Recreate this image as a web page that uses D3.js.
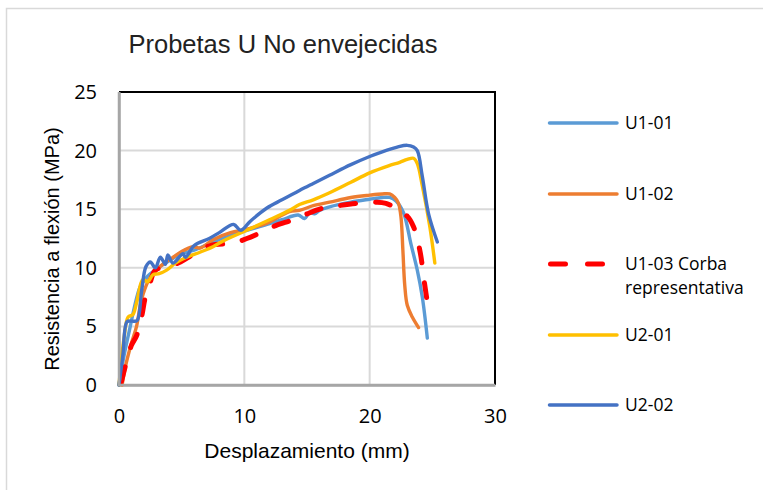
<!DOCTYPE html>
<html>
<head>
<meta charset="utf-8">
<script src="https://cdn.jsdelivr.net/npm/d3@7"></script>
<style>
  body { margin: 0; background: #fff; }
  svg { display: block; }
</style>
</head>
<body>
<svg id="chart" width="763" height="490"></svg>
<script>
// Probetas U No envejecidas -- flexion curves

var xTicks = [0, 10, 20, 30];
var yTicks = [0, 5, 10, 15, 20, 25];

// [desplazamiento mm, resistencia MPa]
var u1_01 = [[0,0],[0.4,2.5],[0.9,5.0],[1.2,6.5],[1.7,8.4],[2.3,9.3],[3.0,9.9],[4.0,10.6],
  [5.0,11.2],[6.0,11.5],[7.5,12.2],[9.0,12.8],[10.2,13.2],[11.5,13.6],[13.0,14.1],[14.3,14.5],
  [14.8,14.2],[15.2,14.7],[15.6,14.6],[16.0,14.9],[16.8,15.2],[18.5,15.6],[20.0,15.85],[21.0,16.0],
  [21.6,16.0],[22.1,15.7],[22.7,14.7],[23.3,12.0],[23.8,9.8],[24.2,7.5],[24.6,4.0]];

var u1_02 = [[0.25,0],[0.5,1.5],[1.0,3.6],[1.4,5.0],[1.8,7.3],[2.4,9.0],[3.0,9.8],[3.6,10.4],
  [4.2,10.8],[5.0,11.4],[5.9,11.8],[6.5,11.7],[7.5,12.4],[8.9,13.0],[10.2,13.3],[11.8,13.8],
  [13.6,14.8],[14.4,14.9],[15.5,15.3],[16.8,15.6],[18.5,16.0],[20.0,16.2],[21.0,16.3],[21.6,16.3],
  [22.0,16.0],[22.3,15.5],[22.5,14.3],[22.65,11.5],[22.8,8.5],[23.0,6.8],[23.4,5.8],[23.9,4.9]];

var u1_03 = [[0.2,0.3],[0.6,2.0],[1.0,3.4],[1.4,4.2],[1.8,5.8],[2.1,7.5],[2.5,8.8],[2.9,9.8],
  [4.0,10.1],[4.9,10.5],[6.0,11.2],[7.3,11.9],[9.1,12.1],[10.2,12.5],[11.4,13.05],[12.5,13.6],
  [13.9,14.1],[15.0,14.6],[16.3,15.1],[17.5,15.3],[19.0,15.5],[20.6,15.6],[21.3,15.5],[21.9,15.2],
  [22.5,14.7],[23.0,14.4],[23.5,13.5],[24.0,11.5],[24.4,8.5],[24.65,6.7]];

var u2_01 = [[0,0],[0.4,4.0],[0.73,5.8],[1.1,6.0],[1.4,7.0],[1.9,9.0],[2.3,8.8],[2.7,9.4],
  [3.2,9.5],[3.8,9.8],[4.5,10.4],[5.4,10.9],[6.5,11.35],[7.5,11.8],[8.5,12.4],[10.2,13.2],
  [12.0,14.1],[13.6,14.9],[14.4,15.4],[15.5,15.8],[16.8,16.4],[18.5,17.3],[20.0,18.1],[21.5,18.7],
  [22.4,19.0],[23.0,19.25],[23.5,19.35],[23.8,18.9],[24.2,17.0],[24.8,13.5],[25.2,10.4]];

var u2_02 = [[0,0],[0.3,2.5],[0.64,5.4],[1.0,5.45],[1.44,5.5],[1.8,8.0],[2.15,10.1],[2.5,10.5],
  [2.9,10.0],[3.3,10.9],[3.7,10.3],[3.9,11.1],[4.3,10.4],[5.1,11.2],[5.3,10.9],[6.0,11.9],
  [7.2,12.5],[8.0,13.0],[9.15,13.7],[9.7,13.2],[10.5,14.0],[11.8,15.1],[13.0,15.8],[14.4,16.6],
  [15.5,17.2],[16.8,17.9],[18.5,18.8],[20.0,19.5],[21.0,19.9],[22.2,20.3],[23.0,20.45],[23.5,20.3],
  [23.8,20.0],[24.2,17.8],[24.7,14.6],[25.4,12.2]];

var seriesNames = ["U1-01", "U1-02", "U1-03 Corba|representativa", "U2-01", "U2-02"];
var seriesData = [u1_01, u1_02, u1_03, u2_01, u2_02];
var seriesColors = ["#5B9BD5", "#ED7D31", "#FF0000", "#FFC000", "#4472C4"];

var svg = d3.select("#chart");

// outer chart frame
svg.append("rect")
  .attr("x", 6.5).attr("y", 8.5)
  .attr("width", 820).attr("height", 600)
  .attr("fill", "none").attr("stroke", "#d9d9d9").attr("stroke-width", 1.5);

var plot = { left: 119, right: 495, top: 92, bottom: 385 };

var x = d3.scaleLinear().domain([0, 30]).range([plot.left, plot.right]);
var y = d3.scaleLinear().domain([0, 25]).range([plot.bottom, plot.top]);

// gridlines
svg.append("g").selectAll("line")
  .data(yTicks.slice(1, -1))
  .enter().append("line")
  .attr("x1", plot.left).attr("x2", plot.right)
  .attr("y1", function (d) { return y(d); })
  .attr("y2", function (d) { return y(d); })
  .attr("stroke", "#d9d9d9").attr("stroke-width", 2);

svg.append("g").selectAll("line")
  .data(xTicks.slice(1, -1))
  .enter().append("line")
  .attr("y1", plot.top).attr("y2", plot.bottom)
  .attr("x1", function (d) { return x(d); })
  .attr("x2", function (d) { return x(d); })
  .attr("stroke", "#d9d9d9").attr("stroke-width", 2);

// plot frame: black top/right
svg.append("path")
  .attr("d", "M" + plot.left + "," + plot.top + "H" + plot.right + "V" + plot.bottom)
  .attr("fill", "none").attr("stroke", "#000").attr("stroke-width", 2);

// axes
var yAxis = svg.append("g")
  .attr("transform", "translate(" + plot.left + ",0)")
  .call(d3.axisLeft(y).tickValues(yTicks).tickSize(0).tickPadding(22));
var xAxis = svg.append("g")
  .attr("transform", "translate(0," + plot.bottom + ")")
  .call(d3.axisBottom(x).tickValues(xTicks).tickSize(0).tickPadding(24));

[xAxis, yAxis].forEach(function (ax) {
  ax.select(".domain").attr("stroke", "#a6a6a6").attr("stroke-width", 2.5);
  ax.selectAll("text")
    .attr("fill", "#000")
    .style("font-family", "'Open Sans', sans-serif")
    .style("font-size", "20px");
});

// curves
var line = d3.line()
  .x(function (d) { return x(d[0]); })
  .y(function (d) { return y(d[1]); })
  .curve(d3.curveCatmullRom.alpha(0.5));

seriesData.forEach(function (data, i) {
  var dashed = i === 2;
  svg.append("path")
    .datum(data)
    .attr("d", line)
    .attr("fill", "none")
    .attr("stroke", seriesColors[i])
    .attr("stroke-width", dashed ? 5 : 3.4)
    .attr("stroke-linejoin", "round")
    .attr("stroke-linecap", "round")
    .attr("stroke-dasharray", dashed ? "15,20" : null);
});

// redraw axis lines on top of curves
svg.append("path")
  .attr("d", "M" + plot.left + "," + plot.top + "V" + plot.bottom + "H" + plot.right)
  .attr("fill", "none").attr("stroke", "#a6a6a6").attr("stroke-width", 2.5);

// legend
var legendY = [123, 194, 264, 335, 405];
var legend = svg.append("g");
seriesNames.forEach(function (name, i) {
  var dashed = i === 2;
  var g = legend.append("g").attr("transform", "translate(0," + legendY[i] + ")");
  g.append("line")
    .attr("x1", dashed ? 550.5 : 549.5).attr("x2", 617)
    .attr("stroke", seriesColors[i])
    .attr("stroke-width", dashed ? 5 : 3.5)
    .attr("stroke-linecap", "round")
    .attr("stroke-dasharray", dashed ? "15,22" : null);
  var t = g.append("text")
    .attr("x", 625)
    .attr("dy", "0.36em")
    .style("font-family", "'Open Sans', sans-serif")
    .style("font-size", "17.5px")
    .attr("fill", "#000");
  name.split("|").forEach(function (part, j) {
    t.append("tspan").attr("x", 625).attr("dy", j === 0 ? "0.36em" : "24px").text(part);
  });
});

// titles
svg.append("text")
  .attr("x", 283).attr("y", 53)
  .attr("text-anchor", "middle")
  .style("font-family", "'Liberation Sans', Arial, sans-serif")
  .style("font-size", "25.5px")
  .attr("fill", "#222")
  .text("Probetas U No envejecidas");

svg.append("text")
  .attr("transform", "translate(59,249) rotate(-90)")
  .attr("text-anchor", "middle")
  .style("font-family", "'Liberation Sans', Arial, sans-serif")
  .style("font-size", "20px")
  .attr("fill", "#000")
  .text("Resistencia a flexión (MPa)");

svg.append("text")
  .attr("x", 307).attr("y", 458)
  .attr("text-anchor", "middle")
  .style("font-family", "'Liberation Sans', Arial, sans-serif")
  .style("font-size", "21px")
  .attr("fill", "#000")
  .text("Desplazamiento (mm)");
</script>
</body>
</html>
